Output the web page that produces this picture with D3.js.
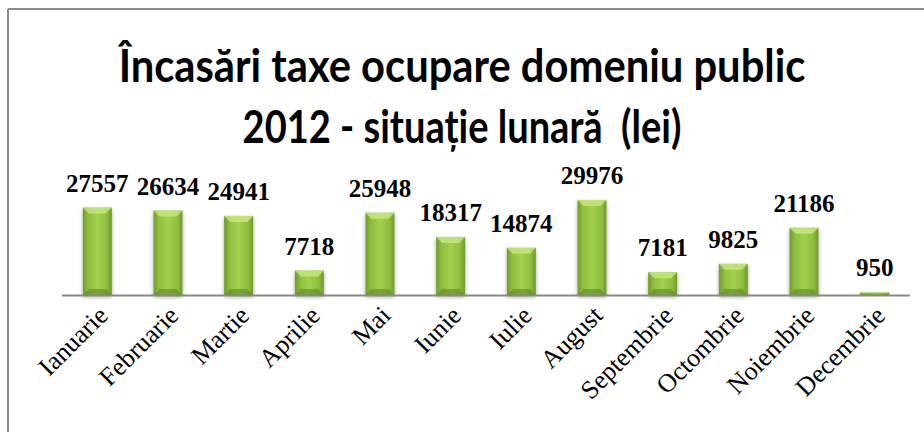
<!DOCTYPE html>
<html>
<head>
<meta charset="utf-8">
<script src="https://cdn.jsdelivr.net/npm/d3@7"></script>
<style>
  html, body { margin: 0; padding: 0; background: #fff; }
  svg { display: block; }
</style>
</head>
<body>
<svg id="chart" width="924" height="432"></svg>
<script>
const titleLines = ["Încasări taxe ocupare domeniu public", "2012 - situație lunară  (lei)"];
const months = ["Ianuarie","Februarie","Martie","Aprilie","Mai","Iunie","Iulie","August","Septembrie","Octombrie","Noiembrie","Decembrie"];
const values = [27557,26634,24941,7718,25948,18317,14874,29976,7181,9825,21186,950];

const W = 924, H = 432;
const svg = d3.select("#chart");

// frame (only top and left edges visible)
svg.append("line").attr("x1", 8).attr("x2", W).attr("y1", 9).attr("y2", 9)
  .attr("stroke", "#8c8c8c").attr("stroke-width", 2);
svg.append("line").attr("x1", 8).attr("x2", 8).attr("y1", 9).attr("y2", H)
  .attr("stroke", "#8c8c8c").attr("stroke-width", 2);

// gradients
const defs = svg.append("defs");
const g1 = defs.append("linearGradient").attr("id", "barGrad").attr("x1", "0").attr("x2", "1").attr("y1", "0").attr("y2", "0");
g1.append("stop").attr("offset", "0%").attr("stop-color", "#6f9a2c");
g1.append("stop").attr("offset", "18%").attr("stop-color", "#8fbe3f");
g1.append("stop").attr("offset", "50%").attr("stop-color", "#a2d14f");
g1.append("stop").attr("offset", "82%").attr("stop-color", "#8fbe3f");
g1.append("stop").attr("offset", "100%").attr("stop-color", "#6f9a2c");
const f = defs.append("filter").attr("id", "shadow").attr("x", "-30%").attr("y", "-10%").attr("width", "160%").attr("height", "130%");
f.append("feGaussianBlur").attr("in", "SourceAlpha").attr("stdDeviation", 2);
f.append("feOffset").attr("dy", 2).attr("result", "b");
f.append("feComponentTransfer").append("feFuncA").attr("type", "linear").attr("slope", 0.35);
const fm = f.append("feMerge");
fm.append("feMergeNode");
fm.append("feMergeNode").attr("in", "SourceGraphic");

const x = d3.scaleBand().domain(months).range([62, 910]).paddingInner(0.59).paddingOuter(0.295);
const y = d3.scaleLinear().domain([0, 35000]).range([295, 184]);

const data = months.map((m, i) => ({ m, v: values[i] }));

const bars = svg.append("g").selectAll("g").data(data).join("g");
bars.append("rect")
  .attr("x", d => x(d.m)).attr("y", d => y(d.v))
  .attr("width", x.bandwidth()).attr("height", d => y(0) - y(d.v))
  .attr("fill", "url(#barGrad)").attr("filter", "url(#shadow)");
// bevel: lighter top, darker bottom
bars.append("path")
  .attr("d", d => {
    const x0 = x(d.m), x1 = x0 + x.bandwidth(), t = y(d.v);
    const h = Math.min(6, (y(0) - t) / 2);
    return `M${x0},${t}L${x1},${t}L${x1 - h},${t + h}L${x0 + h},${t + h}Z`;
  })
  .attr("fill", "#c4e77a").attr("opacity", 0.85);
bars.append("path")
  .attr("d", d => {
    const x0 = x(d.m), x1 = x0 + x.bandwidth(), b = y(0), t = y(d.v);
    const h = Math.min(6, (b - t) / 2);
    return `M${x0},${b}L${x1},${b}L${x1 - h},${b - h}L${x0 + h},${b - h}Z`;
  })
  .attr("fill", "#5e8624").attr("opacity", 0.6);

// axis line
svg.append("line").attr("x1", 62).attr("x2", 910).attr("y1", y(0) + 0.5).attr("y2", y(0) + 0.5)
  .attr("stroke", "#888").attr("stroke-width", 2);

// value labels
svg.append("g").selectAll("text").data(data).join("text")
  .attr("x", d => x(d.m) + x.bandwidth() / 2)
  .attr("y", d => y(d.v) - 16)
  .attr("text-anchor", "middle")
  .attr("font-family", "'Liberation Serif', 'Times New Roman', serif")
  .attr("font-weight", "bold").attr("font-size", 25)
  .attr("fill", "#000")
  .text(d => d.v);

// category labels
svg.append("g").selectAll("text").data(data).join("text")
  .attr("transform", d => `translate(${x(d.m) + x.bandwidth() / 2 + 12},${y(0) + 22}) rotate(-45)`)
  .attr("text-anchor", "end")
  .attr("font-family", "'Liberation Serif', 'Times New Roman', serif")
  .attr("font-size", 26).attr("fill", "#000")
  .text(d => d.m);

// title (condensed bold, like the original Calibri)
const targetW = [687, 439];
const baseY = [82, 143];
svg.append("g").selectAll("text").data(titleLines).join("text")
  .attr("x", 0).attr("y", 0)
  .attr("text-anchor", "middle")
  .attr("font-family", "Lato, 'Open Sans', sans-serif")
  .attr("font-weight", "bold").attr("font-size", 46).attr("fill", "#000")
  .style("white-space", "pre")
  .text(d => d)
  .each(function (d, i) {
    const w = this.getComputedTextLength();
    const sx = w > 0 ? targetW[i] / w : 1;
    d3.select(this).attr("transform", `translate(462,${baseY[i]}) scale(${sx},1)`);
  });
</script>
</body>
</html>
